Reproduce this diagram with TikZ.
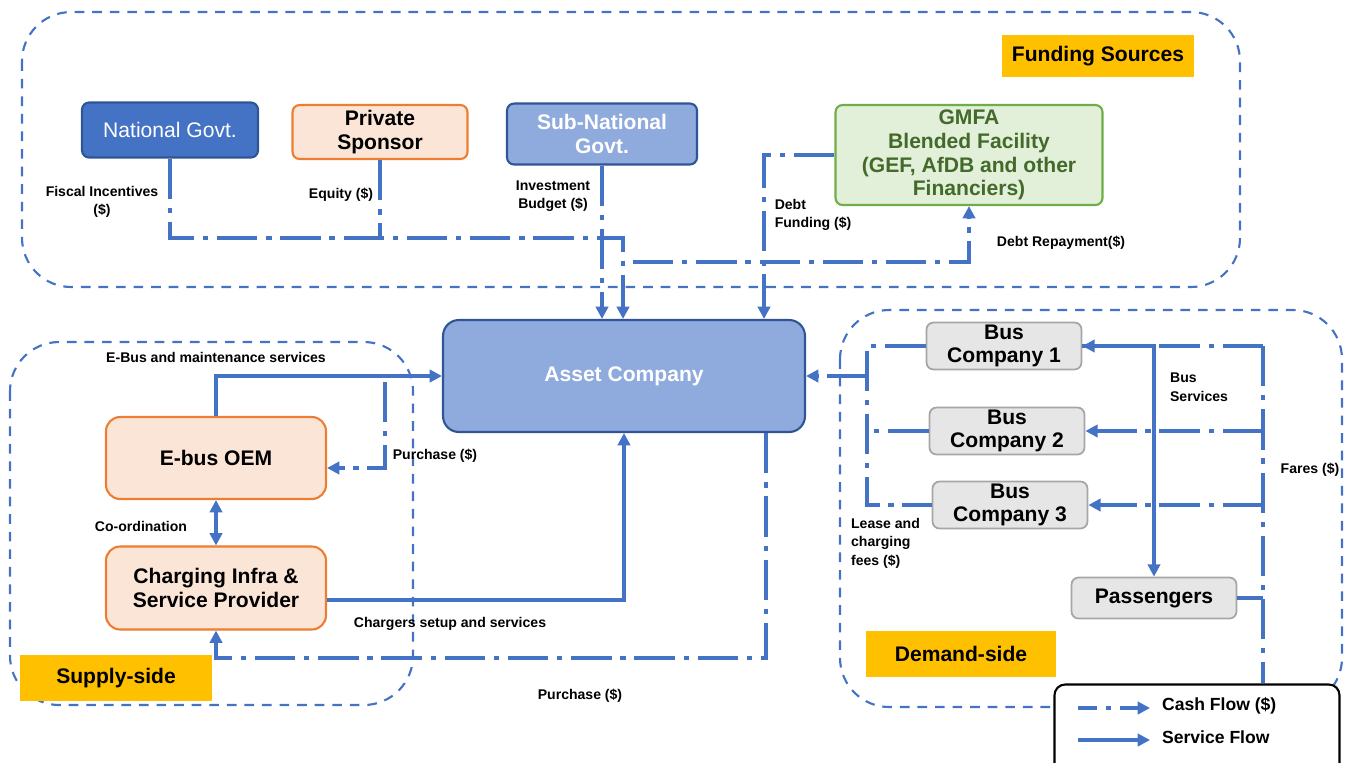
\documentclass[tikz,border=0pt]{standalone}
\usepackage{fontspec}
\setmainfont{Liberation Sans}
\usetikzlibrary{positioning, arrows.meta, calc}

\definecolor{flowblue}{RGB}{68,114,196}
\definecolor{darkblue}{RGB}{47,85,151}
\definecolor{lightblue}{RGB}{143,170,220}
\definecolor{peach}{RGB}{251,229,214}
\definecolor{peachline}{RGB}{237,125,49}
\definecolor{mint}{RGB}{226,240,217}
\definecolor{mintline}{RGB}{112,173,71}
\definecolor{mosstext}{RGB}{67,106,42}
\definecolor{busgray}{RGB}{231,230,230}
\definecolor{busline}{RGB}{166,166,166}
\definecolor{tagyellow}{RGB}{255,192,0}

\begin{document}
\begin{tikzpicture}[
    x=0.02cm, y=-0.02cm,
    box/.style={
        rectangle,
        rounded corners=4pt,
        line width=1.2pt,
        inner sep=1pt,
        align=center,
        font=\fontsize{12}{13.5}\selectfont\bfseries
    },
    govt/.style={box, fill=flowblue, draw=darkblue, text=white, font=\fontsize{12}{13.5}\selectfont},
    subgovt/.style={box, fill=lightblue, draw=darkblue, text=white},
    player/.style={box, fill=peach, draw=peachline},
    lender/.style={box, fill=mint, draw=mintline, text=mosstext},
    operator/.style={box, fill=busgray, draw=busline, line width=1pt},
    tag/.style={rectangle, fill=tagyellow, font=\fontsize{12}{14}\selectfont\bfseries},
    region/.style={draw=flowblue, line width=1.2pt, dash pattern=on 5.5pt off 4.5pt, rounded corners=28pt},
    lbl/.style={font=\fontsize{8}{10.5}\selectfont\bfseries, inner sep=1pt},
    cashline/.style={draw=flowblue, line width=2pt, dash pattern=on 23pt off 5pt on 3pt off 5pt},
    cash/.style={cashline, -{Triangle[length=7pt, width=7pt]}},
    service/.style={draw=flowblue, line width=1.8pt, -{Triangle[length=7pt, width=7pt]}}
]
\useasboundingbox (0,0) rectangle (1352,762);

% === Regions ===
\draw[region] (22,12) rectangle (1240,287);
\draw[region] (10,342) rectangle (413,705);
\draw[region] (840,310) rectangle (1342,707);

% === Funding sources ===
\node[tag, minimum width=3.86cm, minimum height=0.84cm] (fundtag) at (1098,56) {Funding Sources};
\node[govt, minimum width=3.52cm, minimum height=1.1cm] (natgov) at (170,130) {National Govt.};
\node[player, minimum width=3.5cm, minimum height=1.08cm] (private) at (380,132) {Private\\Sponsor};
\node[subgovt, minimum width=3.8cm, minimum height=1.22cm] (subgov) at (602,134) {Sub-National\\Govt.};
\node[lender, minimum width=5.34cm, minimum height=2cm] (gmfa) at (969,155) {GMFA\\Blended Facility\\(GEF, AfDB and other\\Financiers)};

% === Asset company ===
\node[subgovt, rounded corners=9pt, minimum width=7.24cm, minimum height=2.24cm] (asset) at (624,376) {Asset Company};

% === Supply side ===
\node[player, rounded corners=8pt, minimum width=4.4cm, minimum height=1.64cm] (oem) at (216,458) {E-bus OEM};
\node[player, rounded corners=8pt, minimum width=4.4cm, minimum height=1.66cm] (charger) at (216,588) {Charging Infra \&\\Service Provider};
\node[tag, minimum width=3.86cm, minimum height=0.92cm] (supplytag) at (116,678) {Supply-side};

% === Demand side ===
\node[operator, minimum width=3.1cm, minimum height=0.94cm] (bus1) at (1004,346) {Bus\\Company 1};
\node[operator, minimum width=3.1cm, minimum height=0.94cm] (bus2) at (1007,431) {Bus\\Company 2};
\node[operator, minimum width=3.1cm, minimum height=0.94cm] (bus3) at (1010,505) {Bus\\Company 3};
\node[operator, minimum width=3.3cm, minimum height=0.82cm] (pass) at (1154,598) {Passengers};
\node[tag, minimum width=3.82cm, minimum height=0.92cm] (demandtag) at (961,654) {Demand-side};

% === Legend ===
\node[draw=black, fill=white, line width=1.2pt, rounded corners=6pt, minimum width=5.7cm, minimum height=2.1cm] (legend) at (1197,737) {};
\coordinate (cashA) at (1078,708);
\coordinate (cashB) at (1150,708);
\coordinate (servA) at (1078,740);
\coordinate (servB) at (1150,740);
\draw[cash, dash pattern=on 11pt off 5pt on 3pt off 5pt] (cashA) -- (cashB);
\draw[service] (servA) -- (servB);
\node[font=\fontsize{10}{12}\selectfont\bfseries, anchor=west, inner sep=1pt] (cashkey) at (1160,706) {Cash Flow (\$)};
\node[font=\fontsize{10}{12}\selectfont\bfseries, anchor=west, inner sep=1pt] (servkey) at (1160,737) {Service Flow};

% === Funding flows ===
\coordinate (fundjoin) at (623,238);
\coordinate (repay) at (633,262);
\draw[cash] (natgov.south) |- (fundjoin) -- (fundjoin |- asset.north);
\draw[cashline] (private.south) -- (private.south |- fundjoin);
\draw[cash] (subgov.south) -- (subgov.south |- asset.north);
\draw[cash] (gmfa.west) -| ([xshift=-0.84cm]asset.north east);
\draw[cash] (repay) -| (gmfa.south);

\node[lbl, align=center] (fiscallbl) at (102,202) {Fiscal Incentives\\(\$)};
\node[lbl] (equitylbl) at (341,195) {Equity (\$)};
\node[lbl, align=center] (budgetlbl) at (553,196) {Investment\\Budget (\$)};
\node[lbl, align=left] (debtlbl) at (813,215) {Debt\\Funding (\$)};
\node[lbl] (repaylbl) at (1061,243) {Debt Repayment(\$)};

% === Supply flows ===
\coordinate (purchtop) at (385,382);
\draw[service] (oem.north) |- (asset.west);
\draw[cash] (purchtop) |- ([yshift=-0.2cm]oem.east);
\draw[service, {Triangle[length=7pt, width=7pt]}-{Triangle[length=7pt, width=7pt]}] (oem.south) -- (charger.north);
\draw[service] ([yshift=-0.24cm]charger.east) -| (asset.south);
\draw[cash] ([xshift=-0.8cm]asset.south east) -- ++(0,225) -| (charger.south);

\node[lbl] (ebuslbl) at (216,357) {E-Bus and maintenance services};
\node[lbl] (purchlbl) at (435,456) {Purchase (\$)};
\node[lbl] (coordlbl) at (141,526) {Co-ordination};
\node[lbl] (chargelbl) at (450,624) {Chargers setup and services};
\node[lbl] (purch2lbl) at (580,696) {Purchase (\$)};

% === Demand flows ===
\coordinate (leasex) at (867,376);
\coordinate (fares) at (1263,346);
\draw[cashline] (bus1.west) -| (leasex |- bus3.west) -- (bus3.west);
\draw[cashline] (bus2.west) -- (bus2.west -| leasex);
\draw[cash] (leasex) -- (asset.east);
\draw[cashline] (fares) -- (fares |- legend.north);
\draw[cashline] (pass.east) -- (pass.east -| fares);
\draw[cash] (fares) -- (bus1.east);
\draw[cash] (fares |- bus2.east) -- (bus2.east);
\draw[cash] (fares |- bus3.east) -- (bus3.east);
\draw[service] (bus1.east) -| (pass.north);

\node[lbl, align=left, anchor=west] (leaselbl) at (849,543) {Lease and\\charging\\fees (\$)};
\node[lbl, align=left, anchor=west] (buslbl) at (1168,387) {Bus\\Services};
\node[lbl] (fareslbl) at (1310,470) {Fares (\$)};

\end{tikzpicture}
\end{document}
